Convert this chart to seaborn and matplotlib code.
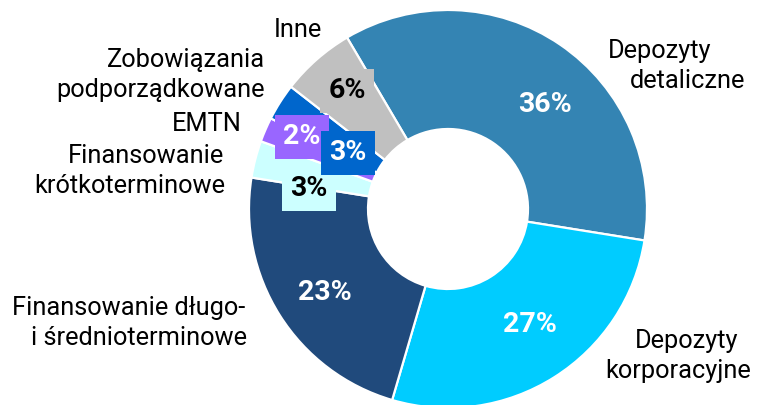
import matplotlib
matplotlib.use("Agg")
import matplotlib.pyplot as plt
import seaborn as sns

sns.set_theme(style="white")
plt.rcParams['font.family'] = ['Roboto', 'DejaVu Sans']

# ---- data ----
categories = ["Depozyty detaliczne", "Depozyty korporacyjne",
              "Finansowanie długo- i średnioterminowe", "Finansowanie krótkoterminowe",
              "EMTN", "Zobowiązania podporządkowane", "Inne"]
values = [36, 27, 23, 3, 2, 3, 6]
pct_labels = ["36%", "27%", "23%", "3%", "2%", "3%", "6%"]
colors = ["#3484B3", "#00CCFF", "#204A7C", "#CCFFFF", "#9966FF", "#0066CC", "#C0C0C0"]

# ---- layout (pixel coords, image y measured from top) ----
W, H = 761, 405
center = (448, H - 209)
R_OUT, R_IN = 199, 80

fig = plt.figure(figsize=(W / 100, H / 100), dpi=100)
ax = fig.add_axes([0, 0, 1, 1])
ax.pie(values, colors=colors, startangle=120.5, counterclock=False,
       radius=R_OUT, center=center,
       wedgeprops=dict(width=R_OUT - R_IN, edgecolor="white", linewidth=1.6))
ax.set_xlim(0, W)
ax.set_ylim(0, H)
ax.set_aspect("equal")
ax.axis("off")

# percentage labels: (x, y_img, text colour, boxed?)
pct_pos = [(545, 104, "white", False), (530, 325, "white", False),
           (325, 293, "white", False), (309, 189, "black", True),
           (302, 137, "white", True), (348, 153, "white", True),
           (347, 91, "black", True)]
for lab, col, (x, y, tc, boxed) in zip(pct_labels, colors, pct_pos):
    kw = {}
    if boxed:
        kw["bbox"] = dict(boxstyle="square,pad=0.3", facecolor=col, edgecolor="none")
    ax.text(x, H - y, lab, ha="center", va="center", color=tc,
            fontsize=20.5, fontweight="bold", **kw)

# category labels, line by line: (text, x, baseline_y_img, ha)
cat_lines = [
    ("Inne", 322, 37, "right"),
    ("Zobowiązania", 265, 67, "right"),
    ("podporządkowane", 265, 97, "right"),
    ("EMTN", 242, 131, "right"),
    ("Finansowanie", 224, 163, "right"),
    ("krótkoterminowe", 225, 193, "right"),
    ("Finansowanie długo-", 245, 315, "right"),
    ("i średnioterminowe", 247, 345, "right"),
    ("Depozyty", 608, 58, "left"),
    ("detaliczne", 630, 88, "left"),
    ("Depozyty", 635, 348, "left"),
    ("korporacyjne", 605, 378, "left"),
]
for txt, x, y, ha in cat_lines:
    ax.text(x, H - y, txt, ha=ha, va="baseline", color="black", fontsize=18.3)

fig.savefig("out.png", dpi=100, facecolor="white")
